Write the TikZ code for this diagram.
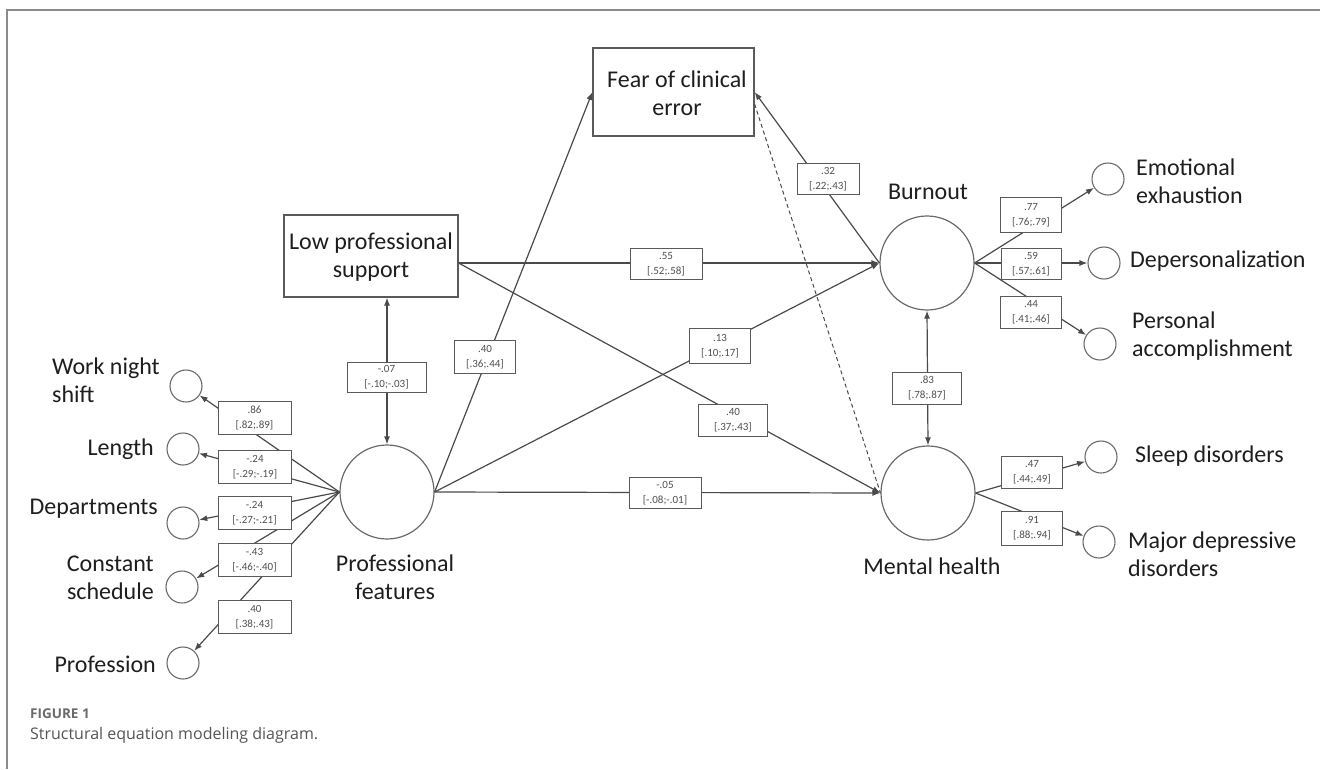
\documentclass[tikz,border=0pt]{standalone}
\usepackage{fontspec}
\setmainfont{Carlito}
\newfontfamily\capfont{Open Sans}
\usetikzlibrary{arrows.meta,calc}
\definecolor{lnc}{HTML}{4A4A4A}
\definecolor{circc}{HTML}{6A6A6A}
\definecolor{boxc}{HTML}{5A5A5A}
\definecolor{txtc}{HTML}{1E1E1E}
\definecolor{coefc}{HTML}{505050}
\definecolor{framec}{HTML}{8A8A8A}
\definecolor{capc}{HTML}{555555}
\definecolor{figc}{HTML}{6A6A6A}
\begin{document}
\begin{tikzpicture}[x=1pt,y=-1pt,
  latent/.style={circle,draw=circc,line width=1.2pt,minimum size=94pt,inner sep=0pt},
  indic/.style={circle,draw=circc,line width=1.1pt,minimum size=32pt,inner sep=0pt},
  obsbox/.style={rectangle,draw=boxc,line width=1.2pt,inner sep=0pt},
  lbl/.style={font=\fontsize{24}{28}\selectfont,text=txtc,inner sep=0pt},
  coef/.style={rectangle,draw=boxc,fill=white,line width=1pt,font=\fontsize{11}{15}\selectfont,text=coefc,align=center,inner sep=0pt,minimum height=32pt,minimum width=62pt},
  conn/.style={draw=lnc,line width=1.2pt,-{Latex[length=8pt,width=6pt]}},
  biconn/.style={draw=lnc,line width=1.2pt,{Latex[length=8pt,width=6pt]}-{Latex[length=8pt,width=6pt]}},
  nsconn/.style={draw=lnc,line width=1pt,dash pattern=on 4pt off 3pt}]
\useasboundingbox (0,0) rectangle (1320,769);
% frame
\draw[framec,line width=1.2pt] (7,769) -- (7,10) -- (1320,10);

% main nodes
\node[obsbox,minimum width=161pt,minimum height=88pt] (fear) at (673.5,92) {};
\node[lbl,align=center] (feart) at (677,93) {Fear of clinical\\error};
\node[obsbox,minimum width=174pt,minimum height=82pt] (lps) at (371,256) {};
\node[lbl,align=center] (lpst) at (371,257) {Low professional\\support};
\node[latent] (pf) at (387,492) {};
\node[latent] (bo) at (927,263) {};
\node[latent] (mh) at (928,493) {};

% left indicators
\node[indic] (wns) at (186,386) {};
\node[indic] (len) at (183,449) {};
\node[indic] (dep) at (183,523) {};
\node[indic] (cs) at (182,587) {};
\node[indic] (pro) at (183,663) {};
% right indicators
\node[indic] (ee) at (1108,179) {};
\node[indic] (dp) at (1104,263) {};
\node[indic] (pa) at (1100,344) {};
\node[indic] (sd) at (1101,457) {};
\node[indic] (md) at (1099,542) {};

% labels
\node[lbl,align=left,anchor=west] (wnst) at (52,380) {Work night\\shift};
\node[lbl,anchor=east] (lent) at (154,449) {Length};
\node[lbl,anchor=east] (dept) at (158,509) {Departments};
\node[lbl,align=right,anchor=east] (cst) at (154,578) {Constant\\schedule};
\node[lbl,anchor=east] (prot) at (156,664) {Profession};
\node[lbl,align=center] (pft) at (395,577) {Professional\\features};
\node[lbl] (bot) at (928,192) {Burnout};
\node[lbl] (mht) at (932,566) {Mental health};
\node[lbl,align=left,anchor=west] (eet) at (1136,181) {Emotional\\exhaustion};
\node[lbl,anchor=west] (dpt) at (1130,261) {Depersonalization};
\node[lbl,align=left,anchor=west] (pat) at (1132,336) {Personal\\accomplishment};
\node[lbl,anchor=west] (sdt) at (1135,456) {Sleep disorders};
\node[lbl,align=left,anchor=west] (mdt) at (1128,554) {Major depressive\\disorders};

% measurement connectors
\foreach \t in {wns,len,dep,cs,pro} \draw[conn] (pf.west) -- (\t);
\foreach \t in {ee,dp,pa} \draw[conn] (bo.east) -- (\t);
\foreach \t in {sd,md} \draw[conn] (mh.east) -- (\t);

% structural connectors
\draw[conn] (pf.east) -- (fear.west);
\draw[conn] (pf.east) -- (bo.west);
\draw[conn] (pf.east) -- (mh.west);
\draw[conn] (lps.east |- bo.west) -- (bo.west);
\draw[conn] (lps.east |- bo.west) -- (mh.west);
\draw[conn] (bo.west) -- (fear.east);
\draw[nsconn] ([yshift=-12pt]fear.east) -- (mh.west);
\draw[biconn] (pf.north |- lps.south) -- (pf.north);
\draw[biconn] (bo.south) -- (mh.north);

% coefficient boxes
\node[coef,minimum width=73pt,minimum height=33pt] (c86) at (254.5,418) {.86\\{[.82;.89]}};
\node[coef,minimum width=73pt,minimum height=33pt] (c24a) at (255,467) {-.24\\{[-.29;-.19]}};
\node[coef,minimum width=73pt,minimum height=33pt] (c24b) at (254.5,513) {-.24\\{[-.27;-.21]}};
\node[coef,minimum width=73pt,minimum height=33pt] (c43) at (254.5,560) {-.43\\{[-.46;-.40]}};
\node[coef,minimum width=73pt,minimum height=33pt] (c40a) at (254.5,617) {.40\\{[.38;.43]}};
\node[coef,minimum width=79pt,minimum height=30pt] (c07) at (386.5,377) {-.07\\{[-.10;-.03]}};
\node[coef,minimum width=61pt,minimum height=33pt] (c40b) at (485,357) {.40\\{[.36;.44]}};
\node[coef,minimum width=72pt,minimum height=31pt] (c55) at (666,264) {.55\\{[.52;.58]}};
\node[coef,minimum width=61pt,minimum height=35pt] (c13) at (720,346) {.13\\{[.10;.17]}};
\node[coef,minimum width=69pt,minimum height=32pt] (c40c) at (733,420) {.40\\{[.37;.43]}};
\node[coef,minimum width=72pt,minimum height=31pt] (c05) at (665,493) {-.05\\{[-.08;-.01]}};
\node[coef,minimum width=62pt,minimum height=31pt] (c32) at (828,179) {.32\\{[.22;.43]}};
\node[coef,minimum width=69pt,minimum height=32pt] (c83) at (927,388) {.83\\{[.78;.87]}};
\node[coef,minimum width=61pt,minimum height=35pt] (c77) at (1031,215) {.77\\{[.76;.79]}};
\node[coef,minimum width=60pt,minimum height=31pt] (c59) at (1031,264) {.59\\{[.57;.61]}};
\node[coef,minimum width=61pt,minimum height=32pt] (c44) at (1031,312) {.44\\{[.41;.46]}};
\node[coef,minimum width=61pt,minimum height=32pt] (c47) at (1032,472) {.47\\{[.44;.49]}};
\node[coef,minimum width=61pt,minimum height=34pt] (c91) at (1032,528) {.91\\{[.88;.94]}};

% caption
\node[font=\capfont\bfseries\fontsize{13.5}{15}\selectfont,text=figc,anchor=west,inner sep=0pt] (fig) at (30,714) {FIGURE 1};
\node[font=\capfont\fontsize{16}{19}\selectfont,text=capc,anchor=west,inner sep=0pt] (cap) at (30,735) {Structural equation modeling diagram.};
\end{tikzpicture}
\end{document}
